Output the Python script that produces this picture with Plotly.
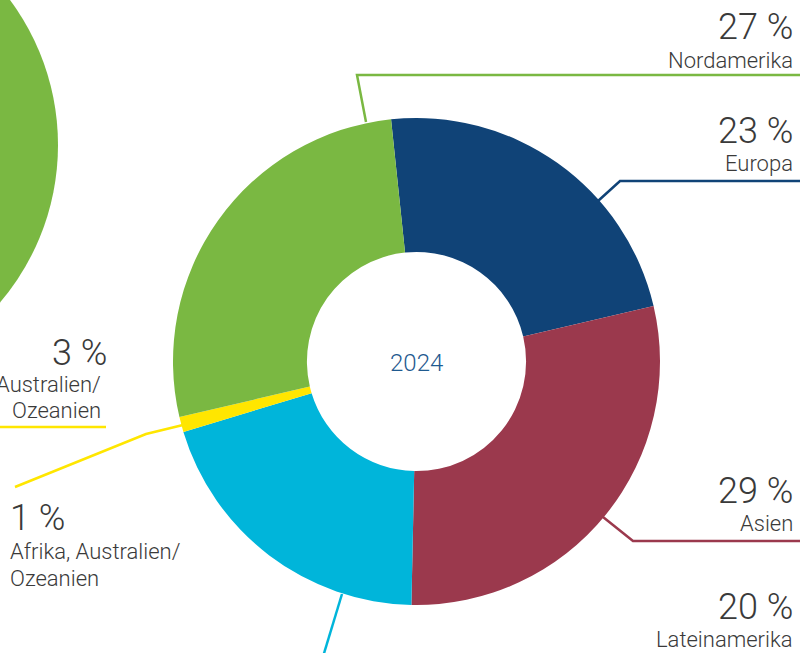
import plotly.graph_objects as go

# Regional shares 2024 (clockwise from the top)
regions = ["Europa", "Asien", "Lateinamerika", "Afrika, Australien/Ozeanien", "Nordamerika"]
shares = [23, 29, 20, 1, 27]
colors = ["#104377", "#9b394d", "#00b5da", "#ffe600", "#7ab842"]
year = "2024"

# Share shown for the previous chart, cut at the left edge
prev_share_label = "3 %"
prev_region_lines = ["Australien/", "Ozeanien"]

W, H = 811, 653
FONT = "Roboto"
TXT = "#3a3a3a"


def px(x):
    return x / W


def py(y):
    return 1 - y / H


fig = go.Figure()

fig.add_trace(go.Pie(
    labels=regions,
    values=shares,
    sort=False,
    direction="clockwise",
    rotation=-6,
    hole=0.45,
    marker=dict(colors=colors, line=dict(width=0)),
    textinfo="none",
    hoverinfo="label+percent",
    showlegend=False,
    domain=dict(x=[px(173), px(660)], y=[py(605), py(118)]),
))

shapes = []


def poly(points, color, width=2.5):
    path = "M " + " L ".join(f"{px(x)},{py(y)}" for x, y in points)
    shapes.append(dict(type="path", path=path, xref="paper", yref="paper",
                       line=dict(color=color, width=width), layer="above"))


# Green slice of the previous donut, mostly outside the figure
cx, cy, r = -185, 145, 243
shapes.append(dict(type="circle", xref="paper", yref="paper",
                   x0=px(cx - r), x1=px(cx + r), y0=py(cy + r), y1=py(cy - r),
                   fillcolor="#7ab842", line=dict(width=0), layer="below"))

# Leader lines
poly([(366, 122), (357, 75), (800, 75)], "#7ab842")
poly([(598, 201), (620, 181), (800, 181)], "#104377")
poly([(603, 517), (633, 541), (800, 541)], "#9b394d")
poly([(342, 594), (322, 660)], "#00b5da")
poly([(183, 425), (146, 434), (15, 487)], "#ffe600")
poly([(0, 427), (106, 427)], "#ffe600")

annotations = []


def label(text, x, y, size, anchor="right", color=TXT):
    annotations.append(dict(text=text, x=px(x), y=py(y), xref="paper", yref="paper",
                            xanchor=anchor, yanchor="middle", showarrow=False,
                            borderpad=0,
                            font=dict(family=FONT, size=size, color=color, weight=300)))


BIG, SMALL = 36, 22
pct = {reg: f"{v} %" for reg, v in zip(regions, shares)}

label(pct["Nordamerika"], 794, 27, BIG)
label("Nordamerika", 794, 60, SMALL)
label(pct["Europa"], 794, 131, BIG)
label("Europa", 794, 163, SMALL)
label(pct["Asien"], 794, 491, BIG)
label("Asien", 794, 523, SMALL)
label(pct["Lateinamerika"], 794, 607, BIG)
label("Lateinamerika", 794, 639, SMALL)

label(prev_share_label, 108, 353, BIG)
label(prev_region_lines[0], 102, 384, SMALL)
label(prev_region_lines[1], 102, 410, SMALL)

label(pct["Afrika, Australien/Ozeanien"], 9, 518, BIG, anchor="left")
label("Afrika, Australien/", 9, 551, SMALL, anchor="left")
label("Ozeanien", 9, 578, SMALL, anchor="left")

label(year, 416, 363, 24, anchor="center", color="#1f5a8f")

fig.update_layout(
    width=W, height=H,
    margin=dict(l=0, r=0, t=0, b=0),
    paper_bgcolor="white", plot_bgcolor="white",
    shapes=shapes, annotations=annotations,
    showlegend=False,
)

fig.write_html("out.html")
